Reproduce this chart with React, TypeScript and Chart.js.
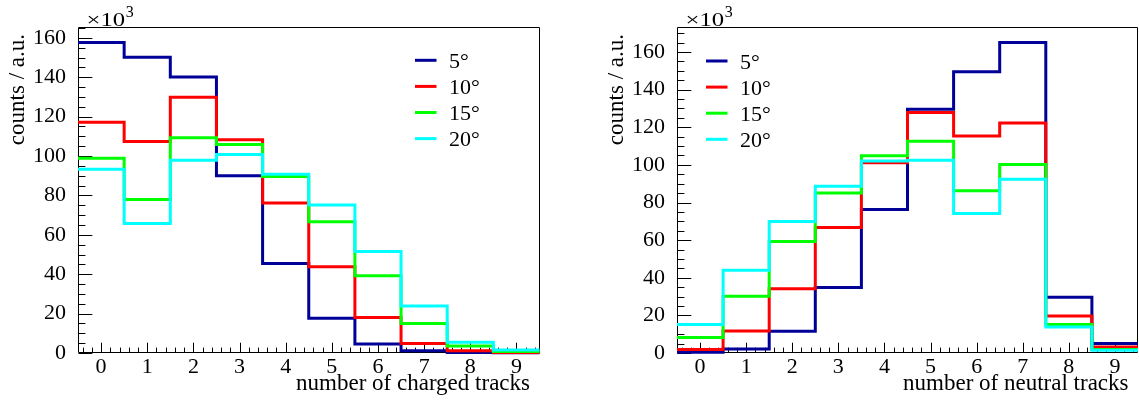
import { useEffect, useRef } from 'react';
import { Chart, registerables } from 'chart.js';

Chart.register(...registerables);

// ---------- data ----------
const trackCounts = [0, 1, 2, 3, 4, 5, 6, 7, 8, 9];
const angleLabels = ['5°', '10°', '15°', '20°'];
const seriesColors = ['#000099', '#ff0000', '#00ff00', '#00ffff'];

// charged tracks (counts ×10^3)
const charged5 = [157.6, 150.1, 140.1, 90.0, 45.4, 17.6, 4.6, 1.1, 0.3, 0.1];
const charged10 = [117.2, 107.4, 129.8, 108.3, 76.2, 43.8, 18.0, 4.8, 1.2, 0.3];
const charged15 = [98.9, 77.9, 109.3, 105.9, 89.6, 66.6, 39.2, 15.0, 3.5, 0.8];
const charged20 = [93.3, 65.7, 97.9, 100.8, 90.8, 75.1, 51.5, 23.8, 5.5, 1.5];

// neutral tracks (counts ×10^3)
const neutral5 = [0.4, 2.1, 11.5, 34.8, 76.3, 129.6, 149.5, 165.1, 29.6, 5.0];
const neutral10 = [1.8, 11.7, 34.2, 66.7, 101.1, 127.9, 115.3, 122.3, 19.7, 3.2];
const neutral15 = [8.2, 30.2, 59.3, 85.1, 104.8, 112.6, 86.2, 100.2, 15.1, 1.8];
const neutral20 = [15.1, 44.0, 69.9, 88.7, 102.0, 102.5, 74.1, 92.4, 13.8, 1.4];

const yTickValues = [0, 20, 40, 60, 80, 100, 120, 140, 160];
const chargedYMax = 165.5;
const neutralYMax = 173.3;

const yTitle = 'counts / a.u.';
const chargedXTitle = 'number of charged tracks';
const neutralXTitle = 'number of neutral tracks';

// ---------- style ----------
const FONT = "'Liberation Serif', 'DejaVu Serif', serif";
const INK = '#000000';

function toSteps(values: number[]) {
  const pts = values.map((v, i) => ({ x: trackCounts[i] - 0.5, y: v }));
  const last = values.length - 1;
  pts.push({ x: trackCounts[last] + 0.5, y: values[last] });
  return pts;
}

const rootStyle = {
  id: 'rootStyle',
  beforeDatasetsDraw(chart: any, _args: any, opts: any) {
    const { ctx, chartArea: a } = chart;
    const xs = chart.scales.x;
    const ys = chart.scales.y;
    const L = Math.round(a.left) + 0.5;
    const R = Math.round(a.right) - 0.5;
    const T = Math.round(a.top) + 0.5;
    const B = Math.round(a.bottom) - 0.5;
    ctx.save();
    ctx.strokeStyle = INK;
    ctx.lineWidth = 1;
    ctx.beginPath();
    ctx.moveTo(L, T);
    ctx.lineTo(R, T);
    ctx.lineTo(R, B);
    ctx.lineTo(L, B);
    ctx.closePath();
    ctx.stroke();

    const xMaj = 0.03 * (a.bottom - a.top);
    const yMaj = 0.03 * (a.right - a.left);
    ctx.beginPath();
    // x ticks
    for (let k = -4; k <= 94; k++) {
      const v = k / 10;
      if (k % 2 !== 0) continue;
      const px = Math.round(xs.getPixelForValue(v)) + 0.5;
      const len = k % 10 === 0 ? xMaj : xMaj / 2;
      ctx.moveTo(px, B);
      ctx.lineTo(px, B - len);
    }
    // y ticks
    for (let v = 0; v <= opts.yMax; v += 5) {
      const py = Math.round(ys.getPixelForValue(v)) + 0.5;
      const len = v % 20 === 0 ? yMaj : yMaj / 2;
      ctx.moveTo(L, py);
      ctx.lineTo(L + len, py);
    }
    ctx.stroke();
    ctx.restore();
  },
  afterDraw(chart: any, _args: any, opts: any) {
    const { ctx, chartArea: a } = chart;
    ctx.save();
    ctx.fillStyle = INK;

    // y title (rotated, aligned to top)
    ctx.save();
    ctx.translate(a.left - 60, a.top + 7);
    ctx.rotate(-Math.PI / 2);
    ctx.font = `23px ${FONT}`;
    ctx.textAlign = 'right';
    ctx.textBaseline = 'middle';
    ctx.fillText(opts.yTitle, 0, 0);
    ctx.restore();

    // x title (right aligned)
    ctx.font = `23px ${FONT}`;
    ctx.textAlign = 'right';
    ctx.textBaseline = 'alphabetic';
    ctx.fillText(opts.xTitle, a.right - 9.5, 389.5);

    // ×10^3 exponent
    const ex = a.left + 8.5;
    ctx.save();
    ctx.translate(ex, 25.7);
    ctx.scale(1.3, 1);
    ctx.font = `19px ${FONT}`;
    ctx.textAlign = 'left';
    ctx.fillText('×10', 0, 0);
    const w = ctx.measureText('×10').width;
    ctx.restore();
    ctx.font = `16px ${FONT}`;
    ctx.textAlign = 'left';
    ctx.fillText('3', ex + w * 1.3 + 0.5, 16.5);

    // legend
    const lg = opts.legend;
    chart.data.datasets.forEach((ds: any, i: number) => {
      const cy = lg.y + i * 26.1;
      ctx.strokeStyle = ds.borderColor;
      ctx.lineWidth = 3;
      ctx.beginPath();
      ctx.moveTo(lg.x, cy);
      ctx.lineTo(lg.x + 21.5, cy);
      ctx.stroke();
      ctx.fillStyle = INK;
      ctx.font = `22px ${FONT}`;
      ctx.textAlign = 'left';
      ctx.textBaseline = 'alphabetic';
      ctx.fillText(ds.label, lg.x + 34, cy + 7.5);
    });
    ctx.restore();
  },
};

type PanelProps = {
  series: number[][];
  xTitle: string;
  yMax: number;
  left: number;
  width: number;
  yAxisWidth: number;
  rightPad: number;
  legend: { x: number; y: number };
};

function Panel(props: PanelProps) {
  const ref = useRef<HTMLCanvasElement | null>(null);
  useEffect(() => {
    const canvas = ref.current;
    if (!canvas) return;
    const tickFont = { family: FONT, size: 22 };
    const chart = new Chart(canvas, {
      type: 'line',
      data: {
        datasets: props.series.map((vals, i) => ({
          label: angleLabels[i],
          data: toSteps(vals),
          borderColor: seriesColors[i],
          backgroundColor: seriesColors[i],
          borderWidth: 3,
          pointRadius: 0,
          pointHoverRadius: 0,
          stepped: 'before' as const,
          fill: false,
          clip: false as any,
          borderJoinStyle: 'miter' as const,
          order: props.series.length - i,
        })),
      },
      options: {
        animation: false,
        responsive: false,
        maintainAspectRatio: false,
        events: [],
        layout: { padding: { top: 27, right: props.rightPad, left: 0, bottom: 0 } },
        plugins: {
          legend: { display: false },
          tooltip: { enabled: false },
          rootStyle: {
            yMax: props.yMax,
            yTitle,
            xTitle: props.xTitle,
            legend: props.legend,
          },
        } as any,
        scales: {
          x: {
            type: 'linear',
            min: -0.5,
            max: 9.5,
            grid: { display: false, drawTicks: false, tickLength: 0 },
            border: { display: false },
            afterBuildTicks: (s: any) => {
              s.ticks = trackCounts.map((v) => ({ value: v }));
            },
            afterFit: (s: any) => {
              s.height = 50;
            },
            ticks: { font: tickFont, color: INK, padding: 1, maxRotation: 0, autoSkip: false },
          },
          y: {
            type: 'linear',
            min: 0,
            max: props.yMax,
            grid: { display: false, drawTicks: false, tickLength: 0 },
            border: { display: false },
            afterBuildTicks: (s: any) => {
              s.ticks = yTickValues.map((v) => ({ value: v }));
            },
            afterFit: (s: any) => {
              s.width = props.yAxisWidth;
            },
            ticks: { font: tickFont, color: INK, padding: 12, autoSkip: false },
          },
        },
      },
      plugins: [rootStyle],
    });
    return () => chart.destroy();
  }, []);
  return (
    <canvas
      ref={ref}
      width={props.width}
      height={403}
      style={{ position: 'absolute', left: props.left, top: 0, width: props.width, height: 403 }}
    />
  );
}

export default function App() {
  return (
    <div style={{ position: 'fixed', left: 0, top: 0, width: 1139, height: 403, background: '#ffffff', overflow: 'hidden' }}>
      <Panel
        series={[charged5, charged10, charged15, charged20]}
        xTitle={chargedXTitle}
        yMax={chargedYMax}
        left={0}
        width={570}
        yAxisWidth={78}
        rightPad={30.5}
        legend={{ x: 415, y: 60.3 }}
      />
      <Panel
        series={[neutral5, neutral10, neutral15, neutral20]}
        xTitle={neutralXTitle}
        yMax={neutralYMax}
        left={570}
        width={569}
        yAxisWidth={107}
        rightPad={1}
        legend={{ x: 136, y: 61 }}
      />
    </div>
  );
}
